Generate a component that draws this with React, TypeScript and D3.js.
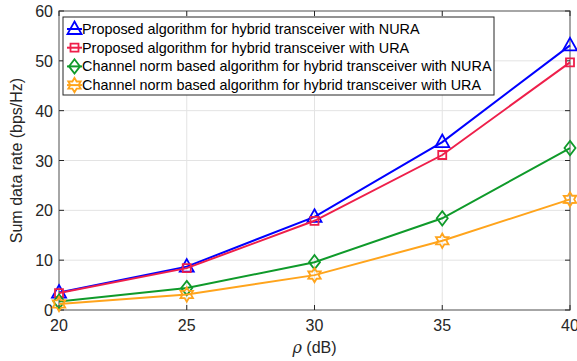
import { useEffect, useRef } from 'react';
import * as d3 from 'd3';

const rho = [20, 25, 30, 35, 40];
const nuraProposed = [3.5, 8.7, 18.7, 33.7, 53.1];
const uraProposed = [3.4, 8.4, 17.9, 31.1, 49.7];
const nuraNorm = [1.7, 4.4, 9.6, 18.4, 32.5];
const uraNorm = [1.2, 3.1, 7.0, 13.9, 22.2];
const xTicks = [20, 25, 30, 35, 40];
const yTicks = [0, 10, 20, 30, 40, 50, 60];
const seriesNames = [
  'Proposed algorithm for hybrid transceiver with NURA',
  'Proposed algorithm for hybrid transceiver with URA',
  'Channel norm based algorithm for hybrid transceiver with NURA',
  'Channel norm based algorithm for hybrid transceiver with URA',
];

const W = 577;
const H = 361;
const margin = { left: 59, right: 7, top: 11, bottom: 51 };

const markerPath = (kind: string, s: number) => {
  if (kind === 'tri') return `M0,${-s * 0.75}L${s * 0.7},${s * 0.5}L${-s * 0.7},${s * 0.5}Z`;
  if (kind === 'sq') return `M${-s / 2},${-s / 2}h${s}v${s}h${-s}Z`;
  if (kind === 'dia') return `M0,${-s * 0.65}L${s * 0.5},0L0,${s * 0.65}L${-s * 0.5},0Z`;
  // hexagram
  const r = s * 0.6;
  const pts: string[] = [];
  for (let i = 0; i < 12; i++) {
    const a = (Math.PI / 6) * i - Math.PI / 2;
    const rr = i % 2 === 0 ? r : r * 0.58;
    pts.push(`${rr * Math.cos(a)},${rr * Math.sin(a)}`);
  }
  return `M${pts.join('L')}Z`;
};

const App = () => {
  const svgRef = useRef<SVGSVGElement | null>(null);

  useEffect(() => {
    const svg = d3.select(svgRef.current);
    svg.selectAll('*').remove();

    const x = d3.scaleLinear().domain([20, 40]).range([margin.left, W - margin.right]);
    const y = d3.scaleLinear().domain([0, 60]).range([H - margin.bottom, margin.top]);
    const font = 'Arial, "Liberation Sans", Helvetica, sans-serif';

    svg.append('rect').attr('width', W).attr('height', H).attr('fill', '#fff');

    // grid
    const grid = svg.append('g').attr('stroke', '#e3e3e3').attr('stroke-width', 1);
    xTicks.forEach(t => {
      grid.append('line').attr('x1', x(t)).attr('x2', x(t)).attr('y1', y(0)).attr('y2', y(60));
    });
    yTicks.forEach(t => {
      grid.append('line').attr('x1', x(20)).attr('x2', x(40)).attr('y1', y(t)).attr('y2', y(t));
    });

    // box
    svg.append('rect')
      .attr('x', x(20)).attr('y', y(60))
      .attr('width', x(40) - x(20)).attr('height', y(0) - y(60))
      .attr('fill', 'none').attr('stroke', '#7f7f7f').attr('stroke-width', 1.3);

    const ticks = svg.append('g').attr('stroke', '#262626').attr('stroke-width', 1);
    xTicks.forEach(t => {
      ticks.append('line').attr('x1', x(t)).attr('x2', x(t)).attr('y1', y(0)).attr('y2', y(0) - 5);
      ticks.append('line').attr('x1', x(t)).attr('x2', x(t)).attr('y1', y(60)).attr('y2', y(60) + 5);
    });
    yTicks.forEach(t => {
      ticks.append('line').attr('x1', x(20)).attr('x2', x(20) + 5).attr('y1', y(t)).attr('y2', y(t));
      ticks.append('line').attr('x1', x(40)).attr('x2', x(40) - 5).attr('y1', y(t)).attr('y2', y(t));
    });

    svg.append('g').selectAll('text').data(xTicks).enter().append('text')
      .attr('x', d => x(d)).attr('y', y(0) + 21)
      .attr('text-anchor', 'middle')
      .attr('font-family', font).attr('font-size', 16).attr('fill', '#262626')
      .text(d => d);
    svg.append('g').selectAll('text').data(yTicks).enter().append('text')
      .attr('x', x(20) - 6).attr('y', d => y(d) + 6)
      .attr('text-anchor', 'end')
      .attr('font-family', font).attr('font-size', 16).attr('fill', '#262626')
      .text(d => d);

    const xl = svg.append('text')
      .attr('x', (x(20) + x(40)) / 2).attr('y', H - 8)
      .attr('text-anchor', 'middle')
      .attr('font-family', font).attr('font-size', 16).attr('fill', '#262626');
    xl.append('tspan').attr('font-style', 'italic').attr('font-family', '"DejaVu Serif", serif').text('ρ');
    xl.append('tspan').text(' (dB)');

    svg.append('text')
      .attr('transform', `translate(22,${(y(0) + y(60)) / 2}) rotate(-90)`)
      .attr('text-anchor', 'middle')
      .attr('font-family', font).attr('font-size', 16).attr('fill', '#262626')
      .text('Sum data rate (bps/Hz)');

    const series = [
      { vals: nuraProposed, color: '#0000ff', marker: 'tri', size: 10 },
      { vals: uraProposed, color: '#ee1f4a', marker: 'sq', size: 8 },
      { vals: nuraNorm, color: '#0f9a2a', marker: 'dia', size: 11 },
      { vals: uraNorm, color: '#ffa41c', marker: 'hex', size: 12 },
    ];

    const line = d3.line<number>().x((_, i) => x(rho[i])).y(d => y(d));

    series.forEach(s => {
      const g = svg.append('g');
      g.append('path').attr('d', line(s.vals) as string)
        .attr('fill', 'none').attr('stroke', s.color).attr('stroke-width', 2);
      g.selectAll('path.m').data(s.vals).enter().append('path')
        .attr('class', 'm')
        .attr('transform', (d, i) => `translate(${x(rho[i])},${y(d)})`)
        .attr('d', markerPath(s.marker, s.size))
        .attr('fill', 'none').attr('stroke', s.color).attr('stroke-width', 1.8);
    });

    // legend
    const lg = svg.append('g');
    lg.append('rect').attr('x', 63).attr('y', 17).attr('width', 431).attr('height', 78)
      .attr('fill', '#fff').attr('stroke', '#262626').attr('stroke-width', 1);
    series.forEach((s, i) => {
      const yy = 29 + i * 18.7;
      lg.append('line').attr('x1', 67).attr('x2', 82).attr('y1', yy).attr('y2', yy)
        .attr('stroke', s.color).attr('stroke-width', 2);
      lg.append('path').attr('transform', `translate(74.5,${yy})`)
        .attr('d', markerPath(s.marker, s.size))
        .attr('fill', 'none').attr('stroke', s.color).attr('stroke-width', 1.8);
      lg.append('text').attr('x', 82).attr('y', yy + 5)
        .attr('font-family', font).attr('font-size', 14.4).attr('fill', '#000')
        .text(seriesNames[i]);
    });
  }, []);

  return (
    <div style={{ position: 'absolute', left: 0, top: 0 }}>
      <svg ref={svgRef} width={W} height={H} style={{ display: 'block' }} />
    </div>
  );
};

export default App;
